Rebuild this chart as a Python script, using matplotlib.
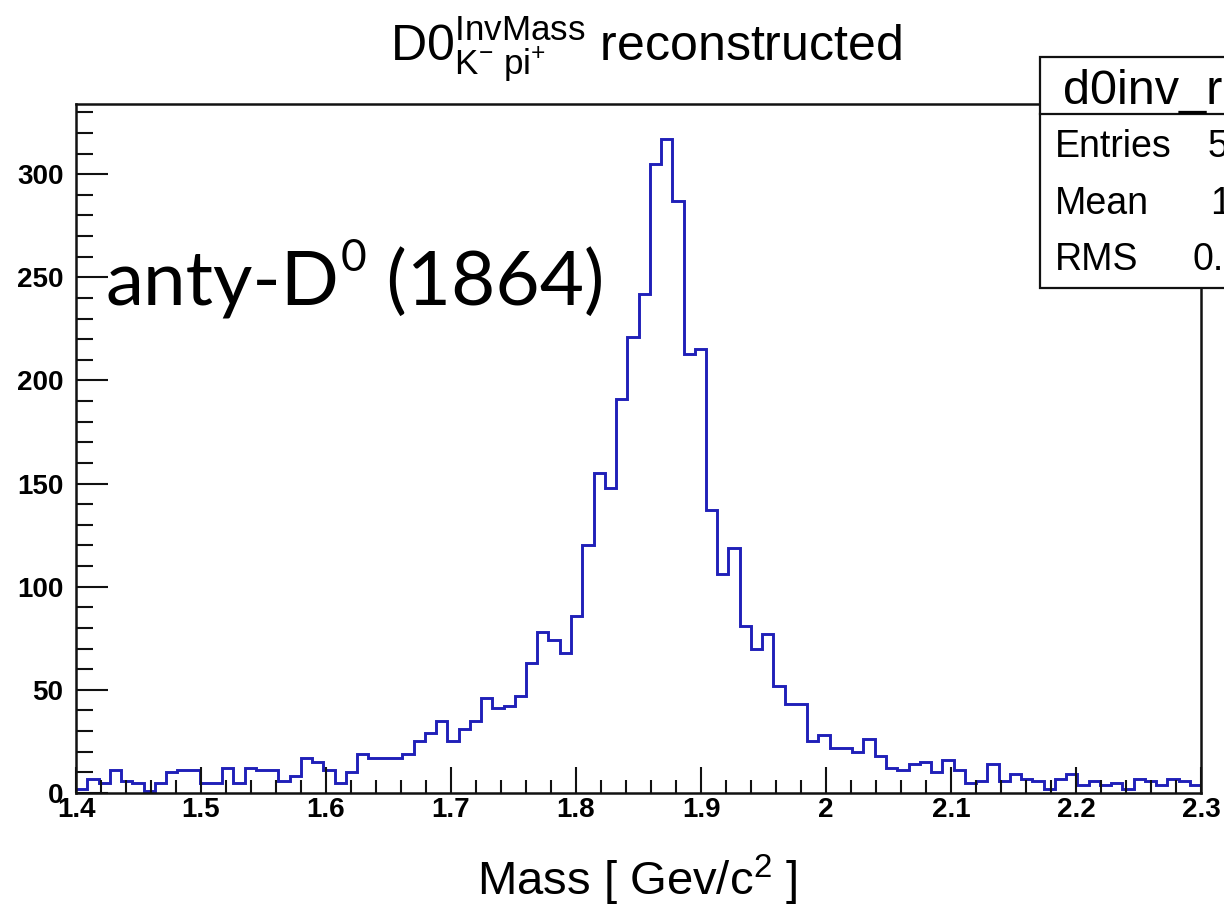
import numpy as np
import matplotlib
matplotlib.use("Agg")
import matplotlib.pyplot as plt
from matplotlib.ticker import MultipleLocator, FuncFormatter
from matplotlib.patches import Rectangle
from matplotlib.lines import Line2D

# D0 -> K- pi+ invariant mass, 100 bins from 1.4 to 2.3 GeV/c^2
counts = [2, 7, 5, 11, 6, 5, 1, 5, 10, 11,
          11, 5, 5, 12, 5, 12, 11, 11, 6, 8,
          17, 15, 11, 5, 10, 19, 17, 17, 17, 19,
          25, 29, 35, 25, 31, 35, 46, 41, 42, 47,
          63, 78, 74, 68, 86, 120, 155, 148, 191, 221,
          242, 305, 317, 287, 213, 215, 137, 106, 119, 81,
          70, 77, 52, 43, 43, 25, 28, 22, 22, 20,
          26, 18, 12, 11, 14, 15, 10, 16, 11, 5,
          6, 14, 6, 9, 7, 6, 2, 7, 9, 4,
          6, 4, 5, 2, 7, 6, 4, 7, 6, 4]
x_lo, x_hi = 1.4, 2.3
edges = np.linspace(x_lo, x_hi, len(counts) + 1)

stat_title = "d0inv_reco"
stat_labels = ["Entries", "Mean", "RMS"]
stat_values = ["5", "1", "0."]   # only the visible part, the box is cut by the border

plt.rcParams['font.family'] = ['Liberation Sans', 'DejaVu Sans']
plt.rcParams['mathtext.fontset'] = 'custom'
plt.rcParams['mathtext.rm'] = 'Liberation Sans'
plt.rcParams['mathtext.it'] = 'Liberation Sans:italic'
plt.rcParams['mathtext.bf'] = 'Liberation Sans:bold'

W, H = 1224, 906
fig = plt.figure(figsize=(W / 100, H / 100), dpi=100)


def px(x, y):
    return x / W, 1 - y / H


ax = fig.add_axes([76 / W, 1 - 793 / H, 1125 / W, 689 / H])
ax.stairs(counts, edges, color='#2020b8', lw=2.1, baseline=None)
ax.set_xlim(x_lo, x_hi)
ax.set_ylim(0, 334)

for s in ax.spines.values():
    s.set_linewidth(1.8)
    s.set_color('#111111')

ax.xaxis.set_major_locator(MultipleLocator(0.1))
ax.xaxis.set_minor_locator(MultipleLocator(0.02))
ax.yaxis.set_major_locator(MultipleLocator(50))
ax.yaxis.set_minor_locator(MultipleLocator(10))
ax.xaxis.set_major_formatter(FuncFormatter(lambda v, p: f"{round(v, 2):g}"))
ax.tick_params(axis='both', which='both', direction='in', width=1.5, color='#111111',
               top=False, right=False, labelsize=20)
ax.tick_params(axis='x', which='major', length=18.5, pad=3)
ax.tick_params(axis='x', which='minor', length=9.5)
ax.tick_params(axis='y', which='major', length=23, pad=9)
ax.tick_params(axis='y', which='minor', length=12)
for lab in ax.get_xticklabels() + ax.get_yticklabels():
    lab.set_fontweight('bold')

# title with ROOT style sub/superscripts
fig.text(*px(390, 62), r"$\mathrm{D0}^{\mathrm{InvMass}}_{\mathrm{K^{-}\ pi^{+}}}$ reconstructed",
         fontsize=36, ha='left', va='baseline')

# axis title
fig.text(*px(637, 895), r"Mass [ Gev/c$^{\mathrm{2}}$ ]", fontsize=34, ha='center', va='baseline')

# stats box, cut by the right border
box = Rectangle(px(1040, 288), 400 / W, (288 - 57) / H, transform=fig.transFigure,
                facecolor='white', edgecolor='#111111', lw=1.6, zorder=5)
fig.add_artist(box)
fig.add_artist(Line2D([1040 / W, 1.3], [1 - 114 / H] * 2, transform=fig.transFigure,
                      color='#111111', lw=1.6, zorder=6))
fig.text(*px(1063, 104), stat_title, fontsize=35, va='baseline', zorder=7)
for i, (lab, val) in enumerate(zip(stat_labels, stat_values)):
    yb = 157 + 56.5 * i
    fig.text(*px(1055, yb), lab, fontsize=27, va='baseline', zorder=7)
    fig.text(*px([1208, 1210, 1193][i], yb), val, fontsize=27, va='baseline', zorder=7)

# annotation added on the slide
ann_font = ['Lato', 'DejaVu Sans']
ann_size = 55
r = fig.canvas.get_renderer()
t1 = fig.text(*px(105, 305), "anty-D", fontsize=ann_size, family=ann_font, va='baseline', zorder=8)
b1 = t1.get_window_extent(r)
t2 = fig.text(b1.x1 / W + 2 / W, 1 - (305 - 0.45 * ann_size / 0.72) / H, "0",
              fontsize=ann_size * 0.58, family=ann_font, va='baseline', zorder=8)
b2 = t2.get_window_extent(r)
fig.text(b2.x1 / W, 1 - 305 / H, " (1864)", fontsize=ann_size, family=ann_font,
         va='baseline', zorder=8)

fig.savefig("out.png", dpi=100, facecolor='white')
